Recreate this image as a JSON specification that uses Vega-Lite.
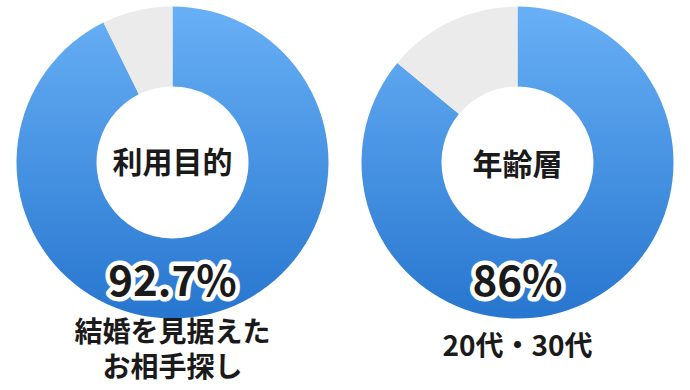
{
  "$schema": "https://vega.github.io/schema/vega-lite/v6.json",
  "padding": 0,
  "spacing": 0,
  "background": "white",
  "config": {"view": {"stroke": null}, "text": {"font": "Noto Sans CJK JP", "fontWeight": "bold"}},
  "datasets": {
    "slices": [
      {"chart": "left", "part": "main", "idx": 1, "value": 92.7},
      {"chart": "left", "part": "rest", "idx": 2, "value": 7.3},
      {"chart": "right", "part": "main", "idx": 1, "value": 86},
      {"chart": "right", "part": "rest", "idx": 2, "value": 14}
    ],
    "labels": [
      {"chart": "left", "center": "利用目的", "pct": "92.7%", "line1": "結婚を見据えた", "line2": "お相手探し"},
      {"chart": "right", "center": "年齢層", "pct": "86%", "line1": "20代・30代", "line2": ""}
    ]
  },
  "hconcat": [
    {
      "width": 345,
      "height": 325,
      "layer": [
        {
          "data": {"name": "slices"},
          "transform": [{"filter": "datum.chart == 'left'"}],
          "mark": {"type": "arc", "radius": 156, "radius2": 76},
          "encoding": {
            "theta": {"field": "value", "type": "quantitative", "stack": true},
            "order": {"field": "idx", "type": "quantitative"},
            "fill": {
              "condition": {"test": "datum.part == 'main'", "value": {"gradient": "linear", "x1": 0, "y1": 0, "x2": 0, "y2": 1, "stops": [{"offset": 0, "color": "#68b0f6"}, {"offset": 1, "color": "#2776cf"}]}},
              "value": "#ebebeb"
            }
          }
        },
        {
          "data": {"name": "labels"},
          "transform": [{"filter": "datum.chart == 'left'"}],
          "mark": {"type": "text", "fontSize": 30, "dy": 1, "fill": "#1a1a1a"},
          "encoding": {"text": {"field": "center"}}
        },
        {
          "data": {"name": "labels"},
          "transform": [{"filter": "datum.chart == 'left'"}],
          "mark": {"type": "text", "fontSize": 42, "dy": 120, "fill": "white", "stroke": "white", "strokeWidth": 9, "strokeJoin": "round"},
          "encoding": {"text": {"field": "pct"}}
        },
        {
          "data": {"name": "labels"},
          "transform": [{"filter": "datum.chart == 'left'"}],
          "mark": {"type": "text", "fontSize": 42, "dy": 120, "fill": "#1a1a1a"},
          "encoding": {"text": {"field": "pct"}}
        },
        {
          "data": {"name": "labels"},
          "transform": [{"filter": "datum.chart == 'left'"}],
          "mark": {"type": "text", "fontSize": 28, "dy": 171, "fill": "#1a1a1a"},
          "encoding": {"text": {"field": "line1"}}
        },
        {
          "data": {"name": "labels"},
          "transform": [{"filter": "datum.chart == 'left'"}],
          "mark": {"type": "text", "fontSize": 28, "dy": 206, "fill": "#1a1a1a"},
          "encoding": {"text": {"field": "line2"}}
        }
      ]
    },
    {
      "width": 345,
      "height": 325,
      "layer": [
        {
          "data": {"name": "slices"},
          "transform": [{"filter": "datum.chart == 'right'"}],
          "mark": {"type": "arc", "radius": 156, "radius2": 76},
          "encoding": {
            "theta": {"field": "value", "type": "quantitative", "stack": true},
            "order": {"field": "idx", "type": "quantitative"},
            "fill": {
              "condition": {"test": "datum.part == 'main'", "value": {"gradient": "linear", "x1": 0, "y1": 0, "x2": 0, "y2": 1, "stops": [{"offset": 0, "color": "#68b0f6"}, {"offset": 1, "color": "#2776cf"}]}},
              "value": "#ebebeb"
            }
          }
        },
        {
          "data": {"name": "labels"},
          "transform": [{"filter": "datum.chart == 'right'"}],
          "mark": {"type": "text", "fontSize": 30, "dy": 3, "fill": "#1a1a1a"},
          "encoding": {"text": {"field": "center"}}
        },
        {
          "data": {"name": "labels"},
          "transform": [{"filter": "datum.chart == 'right'"}],
          "mark": {"type": "text", "fontSize": 42, "dy": 120, "fill": "white", "stroke": "white", "strokeWidth": 9, "strokeJoin": "round"},
          "encoding": {"text": {"field": "pct"}}
        },
        {
          "data": {"name": "labels"},
          "transform": [{"filter": "datum.chart == 'right'"}],
          "mark": {"type": "text", "fontSize": 42, "dy": 120, "fill": "#1a1a1a"},
          "encoding": {"text": {"field": "pct"}}
        },
        {
          "data": {"name": "labels"},
          "transform": [{"filter": "datum.chart == 'right'"}],
          "mark": {"type": "text", "fontSize": 28, "dy": 185, "fill": "#1a1a1a"},
          "encoding": {"text": {"field": "line1"}}
        }
      ]
    }
  ]
}
